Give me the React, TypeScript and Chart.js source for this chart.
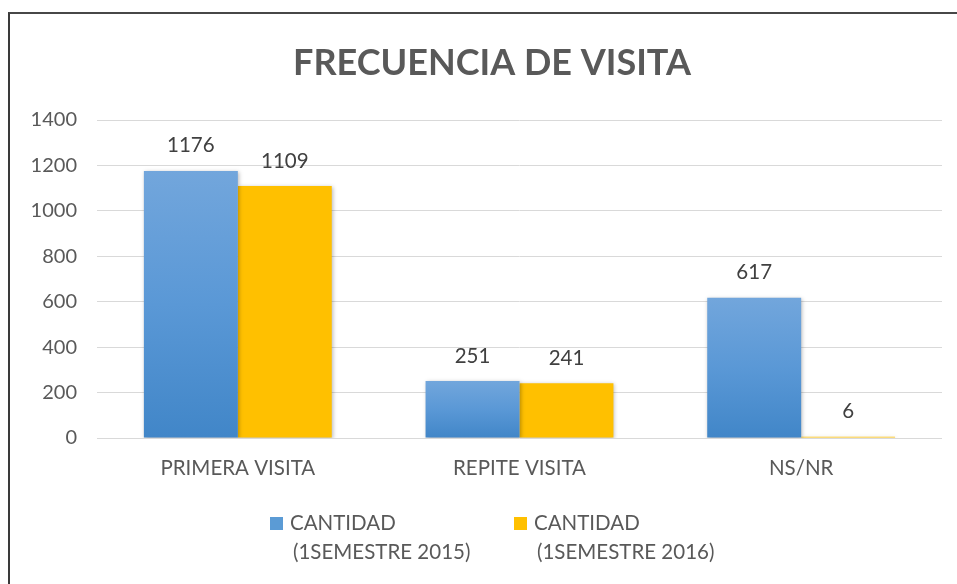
import { useEffect, useRef } from "react";
import { Chart, registerables } from "chart.js";

Chart.register(...registerables);

const chartTitle = "FRECUENCIA DE VISITA";
const categories = ["PRIMERA VISITA", "REPITE VISITA", "NS/NR"];
const cantidad2015 = [1176, 251, 617];
const cantidad2016 = [1109, 241, 6];
const seriesLabels = [
  ["CANTIDAD", "(1SEMESTRE 2015)"],
  ["CANTIDAD", "(1SEMESTRE 2016)"],
];
const yMin = 0;
const yMax = 1400;
const yStep = 200;

const FONT = "Lato, 'Open Sans', sans-serif";
const TEXT = "#595959";

export default function App() {
  const ref = useRef<HTMLCanvasElement | null>(null);

  useEffect(() => {
    const canvas = ref.current;
    if (!canvas) return;

    const blueGradient = (c: any) => {
      const chart = c.chart;
      const area = chart.chartArea;
      if (!area || c.raw === undefined) return "#5b9bd5";
      const yScale = chart.scales.y;
      const top = yScale.getPixelForValue(c.raw);
      const bottom = yScale.getPixelForValue(0);
      const g = chart.ctx.createLinearGradient(0, top, 0, Math.max(bottom, top + 1));
      g.addColorStop(0, "#72a6dc");
      g.addColorStop(0.5, "#5a98d6");
      g.addColorStop(1, "#4186c8");
      return g;
    };

    const shadowPlugin = {
      id: "barShadow",
      beforeDatasetDraw(chart: any) {
        const ctx = chart.ctx;
        ctx.save();
        ctx.shadowColor = "rgba(0,0,0,0.28)";
        ctx.shadowBlur = 4;
        ctx.shadowOffsetX = 1;
        ctx.shadowOffsetY = 1;
      },
      afterDatasetDraw(chart: any) {
        chart.ctx.restore();
      },
    };

    const titlePlugin = {
      id: "customTitle",
      afterDraw(chart: any) {
        const ctx = chart.ctx;
        ctx.save();
        ctx.font = `bold 36px ${FONT}`;
        ctx.fillStyle = TEXT;
        ctx.textAlign = "center";
        ctx.textBaseline = "middle";
        ctx.fillText(chartTitle, 492, 63);
        ctx.restore();
      },
    };

    const valueLabels = {
      id: "valueLabels",
      afterDatasetsDraw(chart: any) {
        const ctx = chart.ctx;
        ctx.save();
        ctx.font = `20.5px ${FONT}`;
        ctx.fillStyle = "#404040";
        ctx.textAlign = "center";
        ctx.textBaseline = "middle";
        chart.data.datasets.forEach((ds: any, i: number) => {
          const meta = chart.getDatasetMeta(i);
          meta.data.forEach((el: any, j: number) => {
            ctx.fillText(String(ds.data[j]), el.x, el.y - 25);
          });
        });
        ctx.restore();
      },
    };

    const customLegend = {
      id: "customLegend",
      afterDraw(chart: any) {
        const ctx = chart.ctx;
        const starts = [270, 514];
        ctx.save();
        ctx.font = `20.5px ${FONT}`;
        ctx.textBaseline = "middle";
        ctx.textAlign = "left";
        chart.data.datasets.forEach((ds: any, i: number) => {
          const x = starts[i];
          ctx.fillStyle = ds.legendColor;
          ctx.fillRect(x, 517, 13, 13);
          ctx.fillStyle = TEXT;
          const lines = ds.legendLines as string[];
          ctx.fillText(lines[0], x + 20, 523.5);
          ctx.fillText(lines[1], x + 23, 552.5);
        });
        ctx.restore();
      },
    };

    const chart = new Chart(canvas, {
      type: "bar",
      data: {
        labels: categories,
        datasets: [
          {
            label: seriesLabels[0].join(" "),
            data: cantidad2015,
            backgroundColor: blueGradient,
            borderWidth: 0,
            barPercentage: 1,
            categoryPercentage: 0.667,
            legendColor: "#5b9bd5",
            legendLines: seriesLabels[0],
          } as any,
          {
            label: seriesLabels[1].join(" "),
            data: cantidad2016,
            backgroundColor: "#ffc000",
            borderWidth: 0,
            barPercentage: 1,
            categoryPercentage: 0.667,
            legendColor: "#ffc000",
            legendLines: seriesLabels[1],
          } as any,
        ],
      },
      options: {
        responsive: false,
        animation: false,
        devicePixelRatio: 1,
        layout: { padding: { left: 0, right: 15, top: 120, bottom: 0 } },
        plugins: {
          legend: { display: false },
          tooltip: { enabled: false },
          title: { display: false },
        },
        scales: {
          x: {
            grid: { display: false, drawTicks: false },
            border: { display: false },
            ticks: {
              color: TEXT,
              font: { family: FONT, size: 20.5 },
              padding: 18,
            },
            afterFit: (scale: any) => {
              scale.height = 146;
            },
          },
          y: {
            min: yMin,
            max: yMax,
            grid: { color: "#d9d9d9", lineWidth: 1, drawTicks: false },
            border: { display: false },
            ticks: {
              stepSize: yStep,
              color: TEXT,
              font: { family: FONT, size: 20 },
              padding: 20,
              callback: (v: any) => String(v),
            },
            afterFit: (scale: any) => {
              scale.width = 97;
            },
          },
        },
      },
      plugins: [shadowPlugin, valueLabels, customLegend, titlePlugin],
    });

    return () => chart.destroy();
  }, []);

  return (
    <>
      <canvas
        ref={ref}
        width={957}
        height={584}
        style={{ position: "fixed", left: 0, top: 0, width: 957, height: 584, background: "#ffffff" }}
      />
      <div
        style={{
          position: "fixed",
          left: 8,
          top: 12,
          width: 960,
          height: 600,
          borderTop: "2px solid #474747",
          borderLeft: "2px solid #3a3a3a",
          pointerEvents: "none",
          boxSizing: "border-box",
        }}
      />
    </>
  );
}
